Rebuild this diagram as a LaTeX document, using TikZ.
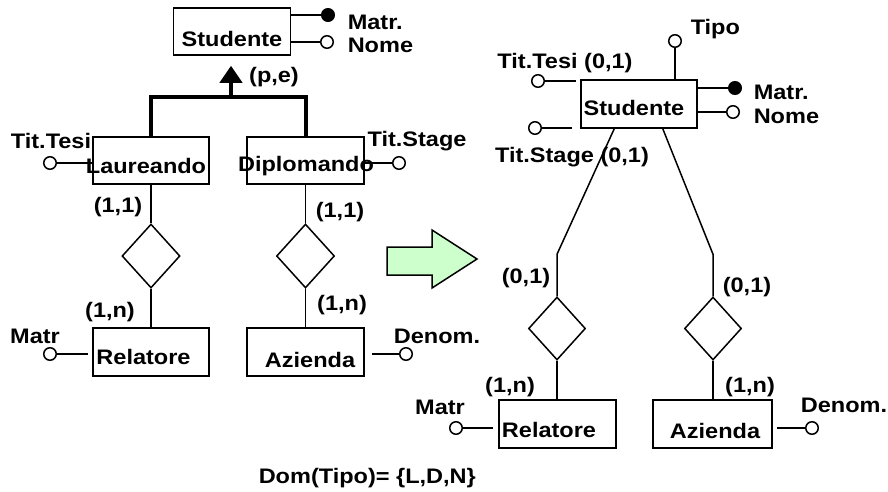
\documentclass[tikz,border=0pt]{standalone}
\usepackage{fontspec}
\setmainfont{Liberation Sans}[FakeStretch=1.12]
\usetikzlibrary{arrows.meta,shapes.geometric}

\definecolor{verdino}{HTML}{CCFFCC}

\begin{document}
\begin{tikzpicture}[x=1pt, y=-1pt, line width=1.5pt,
    entita/.style={draw, rectangle, inner sep=0, minimum width=117, minimum height=47},
    relaz/.style={draw, diamond, inner sep=0, minimum width=58, minimum height=64},
    attr/.style={draw, circle, fill=white, inner sep=0, minimum size=12.5},
    chiave/.style={attr, fill=black},
    txt/.style={font=\bfseries\fontsize{21}{23}\selectfont, inner sep=0},
    isa/.style={line width=4pt, line join=miter}]
    \useasboundingbox (0,0) rectangle (888,491);

    % schema di partenza: gerarchia
    \node[entita] (StA) at (232,31.5) {};
    \node[txt] (StAt) at (232,39) {Studente};
    \node[chiave] (MatrA) at (328,15) {};
    \node[attr] (NomeA) at (327,42) {};
    \draw (StA.east |- MatrA) -- (MatrA);
    \draw (StA.east |- NomeA) -- (NomeA);
    \node[txt, anchor=west] (MatrAt) at (347,22) {Matr.};
    \node[txt, anchor=west] (NomeAt) at (347,45) {Nome};

    \node[entita, minimum width=116] (LauA) at (151,160.5) {};
    \node[txt] (LauAt) at (146,166) {Laureando};
    \node[entita] (DipA) at (305.5,160.5) {};
    \node[txt] (DipAt) at (306,166) {Diplomando};

    % generalizzazione totale ed esclusiva
    \coordinate (Gen) at (231,97);
    \draw[isa] (LauA.north) -- (LauA.north |- Gen) -- (DipA.north |- Gen) -- (DipA.north);
    \draw[isa, shorten >=10pt, -{Triangle[length=17pt, width=22pt]}] (Gen) -- (StA.south -| Gen);
    \node[txt] (PE) at (274,77) {(p,e)};

    \node[attr] (TesiA) at (50,163) {};
    \draw (TesiA) -- (LauA.west |- TesiA);
    \node[txt] (TesiAt) at (51,141) {Tit.Tesi};
    \node[attr] (StageA) at (399,163) {};
    \draw (DipA.east |- StageA) -- (StageA);
    \node[txt] (StageAt) at (417,141) {Tit.Stage};

    % relazioni verso Relatore e Azienda
    \node[relaz] (R1A) at (151,256) {};
    \node[relaz] (R2A) at (305.5,256) {};
    \node[entita, minimum width=116, minimum height=48] (RelA) at (151,352) {};
    \node[txt] (RelAt) at (143.5,357) {Relatore};
    \node[entita, minimum height=48] (AzA) at (305.5,352) {};
    \node[txt] (AzAt) at (310,360) {Azienda};
    \draw (LauA.south) -- (R1A.north);
    \draw (R1A.south) -- (RelA.north);
    \draw (DipA.south) -- (R2A.north);
    \draw (R2A.south) -- (AzA.north);
    \node[txt] (C1A) at (118,207) {(1,1)};
    \node[txt] (C2A) at (340,212) {(1,1)};
    \node[txt] (C3A) at (110,312) {(1,n)};
    \node[txt] (C4A) at (342,305) {(1,n)};

    \node[attr] (MatrRA) at (50,354) {};
    \coordinate (MatrRAe) at (88,354);
    \draw (MatrRA) -- (MatrRAe);
    \node[txt] (MatrRAt) at (35,336) {Matr};
    \node[attr] (DenA) at (406,354) {};
    \coordinate (DenAe) at (372,354);
    \draw (DenAe) -- (DenA);
    \node[txt] (DenAt) at (437,336) {Denom.};

    % freccia di trasformazione
    \draw[fill=verdino] (387,247) -- (432,247) -- (432,230) -- (477,259)
        -- (432,288) -- (432,275) -- (387,275) -- cycle;

    % schema ristrutturato: gerarchia accorpata nel padre
    \node[entita, minimum width=116, minimum height=48] (StB) at (639,104) {};
    \node[txt] (StBt) at (634,108) {Studente};
    \node[attr] (Tipo) at (675,41) {};
    \draw (StB.north -| Tipo) -- (Tipo);
    \node[txt, anchor=west] (Tipot) at (690,29) {Tipo};
    \node[chiave] (MatrB) at (735,88) {};
    \node[attr] (NomeB) at (733,112) {};
    \draw (StB.east |- MatrB) -- (MatrB);
    \draw (StB.east |- NomeB) -- (NomeB);
    \node[txt, anchor=west] (MatrBt) at (753,92) {Matr.};
    \node[txt, anchor=west] (NomeBt) at (753,116) {Nome};

    \node[attr] (TesiB) at (538,81) {};
    \coordinate (TesiBe) at (576,81);
    \draw (TesiB) -- (TesiBe);
    \node[txt] (TesiBt) at (565,63) {Tit.Tesi (0,1)};
    \node[attr] (StageB) at (535,128) {};
    \coordinate (StageBe) at (572,128);
    \draw (StageB) -- (StageBe);
    \node[txt] (StageBt) at (572,157) {Tit.Stage (0,1)};

    \node[relaz, minimum width=57, minimum height=63] (R1B) at (557,328.5) {};
    \node[relaz, minimum width=57, minimum height=63] (R2B) at (713,328.5) {};
    \draw ([xshift=34pt]StB.south west) -- ([yshift=42pt]R1B.north) -- (R1B.north);
    \draw ([xshift=-35pt]StB.south east) -- ([yshift=42pt]R2B.north) -- (R2B.north);

    \node[entita, minimum height=48] (RelB) at (557.5,424) {};
    \node[txt] (RelBt) at (549,430) {Relatore};
    \node[entita, minimum width=119, minimum height=48] (AzB) at (712.5,424) {};
    \node[txt] (AzBt) at (715,431) {Azienda};
    \draw (R1B.south) -- (R1B.south |- RelB.north);
    \draw (R2B.south) -- (R2B.south |- AzB.north);
    \node[txt] (C1B) at (526,278) {(0,1)};
    \node[txt] (C2B) at (747,287) {(0,1)};
    \node[txt] (C3B) at (510,387) {(1,n)};
    \node[txt] (C4B) at (750,387) {(1,n)};

    \node[attr] (MatrRB) at (456,428) {};
    \coordinate (MatrRBe) at (493,428);
    \draw (MatrRB) -- (MatrRBe);
    \node[txt] (MatrRBt) at (440,407) {Matr};
    \node[attr] (DenB) at (812,428) {};
    \coordinate (DenBe) at (777,428);
    \draw (DenBe) -- (DenB);
    \node[txt] (DenBt) at (844,405) {Denom.};

    % vincolo sul dominio
    \node[txt, anchor=west] (Dom) at (258,478) {Dom(Tipo)= \{L,D,N\}};
\end{tikzpicture}
\end{document}
